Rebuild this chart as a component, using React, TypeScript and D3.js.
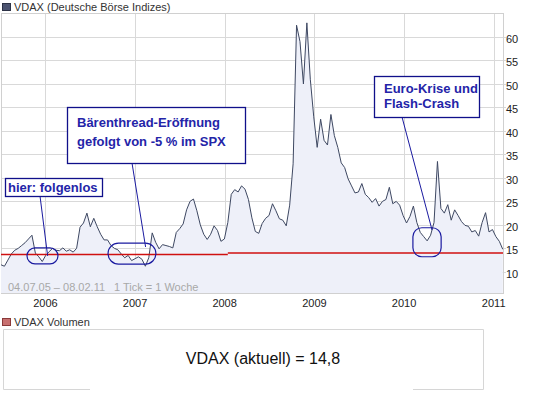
import React from 'react';
import * as d3 from 'd3';

// VDAX, one value every two weeks from 04.07.05
const startDate = new Date(2005, 6, 4);
const endDate = new Date(2011, 1, 8);
const vdax = [
  11.5, 11.2, 12.5, 13.8, 14.6, 15.0, 15.6, 16.2, 17.0, 17.8,
  14.0, 13.2, 12.2, 13.5, 14.3, 15.0, 14.6, 14.5, 15.1, 14.4,
  14.7, 14.2, 15.0, 19.5, 20.4, 22.5, 19.6, 21.4, 19.6, 18.0,
  16.8, 16.8, 15.6, 15.0, 14.7, 13.8, 13.0, 13.5, 12.4, 12.8,
  13.2, 12.7, 11.2, 13.0, 18.3, 16.3, 14.9, 15.8, 15.6, 15.4,
  15.1, 18.4, 19.2, 20.2, 23.2, 25.0, 25.5, 23.0, 20.0, 18.0,
  16.9, 18.0, 19.8, 18.8, 16.5, 17.0, 20.5, 26.5, 27.5, 27.0,
  28.3, 27.6, 25.4, 21.5, 18.6, 18.2, 20.3, 21.4, 22.0, 24.5,
  23.0, 21.3, 21.0, 19.8, 24.2, 33.0, 62.5, 59.0, 50.0, 63.0,
  51.0, 43.0, 36.5, 42.5, 38.0, 37.0, 43.5, 39.0, 36.5, 33.2,
  32.2, 29.8, 28.3, 26.8, 27.0, 28.8, 26.5, 25.8, 24.8, 25.6,
  24.0, 25.0, 25.4, 28.0, 24.5, 25.0, 24.2, 22.0, 20.4, 21.8,
  24.0, 20.5, 18.4, 17.5, 16.6, 17.8, 20.5, 33.5, 23.5, 22.5,
  24.3, 21.0, 23.2, 22.0, 20.7, 19.9, 19.7, 18.5, 18.8, 17.6,
  20.5, 22.6, 18.5, 19.0, 17.5, 16.5, 14.8,
];

const yTicks = [10, 15, 20, 25, 30, 35, 40, 45, 50, 55, 60];
const yearTicks = [2006, 2007, 2008, 2009, 2010, 2011];

// red reference line (level, valid from)
const redFrom = ['2005-07-04', '2008-01-14'];
const redLevel = [13.7, 14.0];

const annotations = [
  { lines: ['hier: folgenlos'], pointTo: '2006-01-10', pointVal: 13.4, ring: ['2005-10-18', '2006-02-21', 13.4] },
  { lines: ['Bärenthread-Eröffnung', 'gefolgt von -5 % im SPX'], pointTo: '2007-02-13', pointVal: 15.3, ring: ['2006-09-13', '2007-03-27', 13.9] },
  { lines: ['Euro-Krise und', 'Flash-Crash'], pointTo: '2010-04-25', pointVal: 18.9, ring: ['2010-02-06', '2010-06-01', 16.3] },
];

const font = 'Arial, "Liberation Sans", sans-serif';

export default function App() {
  const left = 1, right = 503, top = 13, bottom = 293;
  const x = d3.scaleTime().domain([startDate, endDate]).range([left, right]);
  const y = d3.scaleLinear().domain([5.5, 65.1]).range([bottom, top]);

  const pts = vdax.map((v, i) => ({ date: d3.timeWeek.offset(startDate, 2 * i), v }));
  const line = d3.line<any>().x(d => x(d.date)).y(d => y(d.v));
  const area = d3.area<any>().x(d => x(d.date)).y0(bottom).y1(d => y(d.v));

  const pd = d3.timeParse('%Y-%m-%d');
  const redSegs = redFrom.map((f, i) => ({
    x1: x(pd(f)!),
    x2: i < redFrom.length - 1 ? x(pd(redFrom[i + 1])!) : right,
    y: y(redLevel[i]),
  }));

  // annotation boxes (box geometry in pixels)
  const boxes = [
    { x: 5, y: 178, w: 97, h: 18, lx: 35 },
    { x: 67, y: 107, w: 178, h: 56, lx: 65 },
    { x: 374, y: 76, w: 105, h: 41, lx: 28 },
  ];
  const ringH = [16, 21, 29];

  return (
    <svg width={545} height={398} style={{ position: 'absolute', left: 0, top: 0, background: '#fff' }} fontFamily={font}>
      {/* legend top */}
      <rect x={2.5} y={3.5} width={8} height={7} fill="#4b5370" stroke="#2c3246" />
      <text x={14} y={11} fontSize={11} fill="#333">VDAX (Deutsche Börse Indizes)</text>

      {/* grid */}
      {yTicks.map(t => (
        <line key={t} x1={left} x2={right + 3} y1={Math.round(y(t)) + 0.5} y2={Math.round(y(t)) + 0.5} stroke="#d9d9d9" />
      ))}
      {yearTicks.map(yr => (
        <line key={yr} x1={Math.round(x(new Date(yr, 0, 1))) + 0.5} x2={Math.round(x(new Date(yr, 0, 1))) + 0.5} y1={top} y2={bottom} stroke="#d9d9d9" />
      ))}
      <rect x={left + 0.5} y={top + 0.5} width={right - left} height={bottom - top} fill="none" stroke="#d0d0d0" />

      {/* series */}
      <path d={area(pts)!} fill="#eef0f9" />
      <path d={line(pts)!} fill="none" stroke="#3e4862" strokeWidth={1} />

      {/* red line */}
      {redSegs.map((s, i) => (
        <line key={i} x1={s.x1} x2={s.x2} y1={s.y} y2={s.y} stroke="#d01010" strokeWidth={1.5} />
      ))}

      {/* y axis labels */}
      {yTicks.map(t => (
        <text key={t} x={506} y={y(t) + 6} fontSize={11} fill="#222">{t}</text>
      ))}

      {/* x axis labels */}
      {yearTicks.map(yr => (
        <text key={yr} x={x(new Date(yr, 0, 1))} y={307} fontSize={11} textAnchor="middle" fill="#222">{yr}</text>
      ))}
      <text x={8} y={291} fontSize={11} fill="#a8a8a8">04.07.05 – 08.02.11</text>
      <text x={114} y={291} fontSize={11} fill="#a8a8a8">1 Tick = 1 Woche</text>

      {/* annotations */}
      {annotations.map((a, i) => {
        const b = boxes[i];
        const px = x(pd(a.pointTo)!);
        const py = y(a.pointVal);
        const rx1 = x(pd(a.ring[0] as string)!);
        const rx2 = x(pd(a.ring[1] as string)!);
        const rc = y(a.ring[2] as number);
        const rh = ringH[i];
        return (
          <g key={i}>
            <line x1={b.x + b.lx} y1={b.y + b.h} x2={px} y2={py} stroke="#1a1aa0" strokeWidth={1} />
            <rect x={rx1} y={rc - rh / 2} width={rx2 - rx1} height={rh} rx={i === 2 ? 9 : rh / 2} fill="none" stroke="#1a1aa0" strokeWidth={1.2} />
            <rect x={b.x + 0.5} y={b.y + 0.5} width={b.w} height={b.h} fill="#fff" stroke="#10108a" strokeWidth={1.3} />
            {a.lines.map((l, j) => (
              <text key={j} x={b.x + (i === 0 ? 3 : 10)} y={b.y + (i === 0 ? 13.5 : i === 1 ? 20 + j * 19 : 17 + j * 15)} fontSize={13} fontWeight="bold" fill="#2424a8">{l}</text>
            ))}
          </g>
        );
      })}

      {/* bottom panel */}
      <rect x={2.5} y={318.5} width={8} height={7} fill="#c87070" stroke="#8a3a3a" />
      <text x={14} y={326} fontSize={11} fill="#333">VDAX Volumen</text>
      <path d="M3.5,389.5 V329.5 H483.5 V389.5" fill="none" stroke="#d6d6d6" />
      <line x1={3.5} x2={90} y1={389.5} y2={389.5} stroke="#d6d6d6" />
      <line x1={413} x2={483.5} y1={389.5} y2={389.5} stroke="#d6d6d6" />
      <text x={263} y={364} fontSize={16} textAnchor="middle" fill="#111">VDAX (aktuell) = 14,8</text>
    </svg>
  );
}
